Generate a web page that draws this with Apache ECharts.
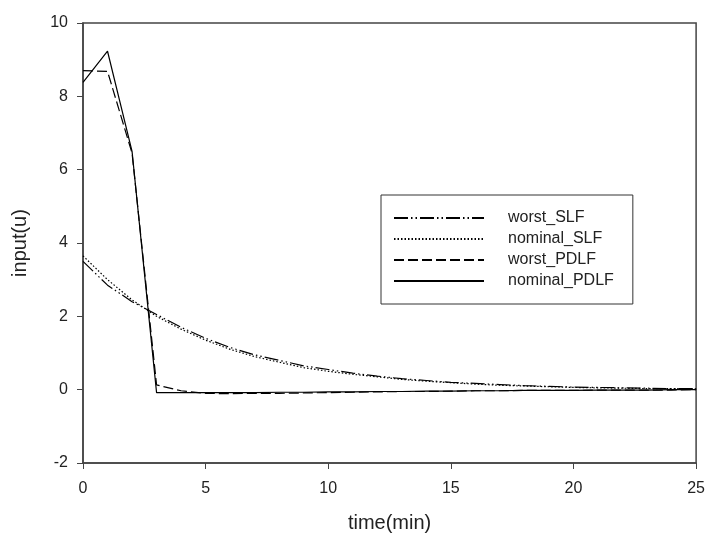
<!DOCTYPE html>
<html>
<head>
<meta charset="utf-8">
<script src="https://cdn.jsdelivr.net/npm/echarts@6/dist/echarts.min.js"></script>
<style>
html,body{margin:0;padding:0;background:#fff;}
#chart{width:708px;height:538px;}
</style>
</head>
<body>
<div id="chart"></div>
<script>
var time = [0,1,2,3,4,5,6,7,8,9,10,11,12,13,14,15,16,17,18,19,20,21,22,23,24,25];
var worstSLF = [3.5,2.85,2.4,2.05,1.7,1.4,1.15,0.95,0.8,0.65,0.55,0.45,0.37,0.3,0.25,0.2,0.17,0.14,0.11,0.09,0.07,0.06,0.05,0.04,0.03,0.03];
var nominalSLF = [3.65,3.0,2.45,2.0,1.65,1.35,1.1,0.9,0.75,0.6,0.5,0.42,0.35,0.28,0.23,0.19,0.15,0.12,0.1,0.08,0.06,0.05,0.04,0.03,0.03,0.02];
var worstPDLF = [8.7,8.68,6.45,0.13,-0.03,-0.1,-0.11,-0.1,-0.1,-0.09,-0.08,-0.07,-0.06,-0.05,-0.05,-0.04,-0.03,-0.03,-0.02,-0.02,-0.02,-0.01,-0.01,-0.01,-0.01,0];
var nominalPDLF = [8.38,9.23,6.5,-0.08,-0.08,-0.08,-0.08,-0.08,-0.07,-0.07,-0.06,-0.06,-0.05,-0.05,-0.04,-0.04,-0.03,-0.03,-0.02,-0.02,-0.02,-0.01,-0.01,-0.01,0,0];
var seriesNames = ['worst_SLF','nominal_SLF','worst_PDLF','nominal_PDLF'];
var xTitle = 'time(min)';
var yTitle = 'input(u)';

function pairs(arr){ return time.map(function(t,i){ return [t, arr[i]]; }); }
var dashes = [[14,3,1.5,3,1.5,3],[1.5,2],[10,4],'solid'];
var vals = [worstSLF, nominalSLF, worstPDLF, nominalPDLF];
var font = 'Liberation Sans, Arial, sans-serif';

var chart = echarts.init(document.getElementById('chart'), null, {renderer:'canvas'});
chart.setOption({
  animation:false,
  backgroundColor:'#fff',
  grid:{left:83,right:9,top:23,bottom:72,show:true,borderColor:'#444',borderWidth:1.5,containLabel:false},
  legend:{
    orient:'vertical', left:381, top:195,
    data:seriesNames,
    backgroundColor:'#fff', borderColor:'#333', borderWidth:1,
    padding:[15,19,15,12],
    itemWidth:90, itemHeight:14, itemGap:5,
    itemStyle:{opacity:0},
    textStyle:{fontFamily:font,fontSize:16,color:'#222',padding:[0,0,0,19]}
  },
  xAxis:{
    type:'value', min:0, max:25, interval:5,
    name:xTitle, nameLocation:'middle', nameGap:50,
    nameTextStyle:{fontFamily:font,fontSize:20,color:'#222'},
    axisLine:{show:true,onZero:false,lineStyle:{color:'#444',width:1.5}},
    axisTick:{show:true,inside:false,length:6,lineStyle:{color:'#444'}},
    axisLabel:{fontFamily:font,fontSize:16,color:'#222',margin:18},
    splitLine:{show:false}
  },
  yAxis:{
    type:'value', min:-2, max:10, interval:2,
    name:yTitle, nameLocation:'middle', nameGap:53,
    nameTextStyle:{fontFamily:font,fontSize:20,color:'#222'},
    axisLine:{show:true,onZero:false,lineStyle:{color:'#444',width:1.5}},
    axisTick:{show:true,inside:false,length:6,lineStyle:{color:'#444'}},
    axisLabel:{fontFamily:font,fontSize:16,color:'#222',margin:15},
    splitLine:{show:false}
  },
  series: seriesNames.map(function(n,i){
    return {
      name:n, type:'line', data:pairs(vals[i]), symbol:'none',
      color:'#000',
      lineStyle:{color:'#000',width:1.2,type:dashes[i]}
    };
  })
});
</script>
</body>
</html>
